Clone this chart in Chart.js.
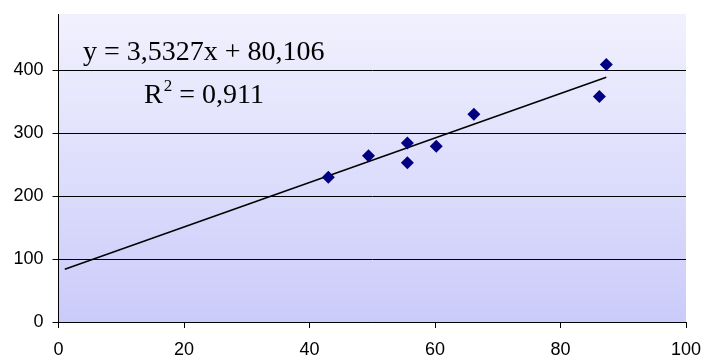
<!DOCTYPE html>
<html>
<head>
<meta charset="utf-8">
<script src="https://cdn.jsdelivr.net/npm/chart.js@4.4.0/dist/chart.umd.min.js"></script>
<style>
  html, body { margin: 0; padding: 0; background: #fff; }
  #wrap { width: 703px; height: 356px; }
</style>
</head>
<body>
<div id="wrap"><canvas id="grafico"></canvas></div>
<script>
// dados
const xValores = [43.0, 49.4, 55.6, 55.6, 60.2, 66.2, 86.2, 87.3];
const yValores = [230, 264, 284, 253, 279, 330, 358, 409];
const xTicks = [0, 20, 40, 60, 80, 100];
const yTicks = [0, 100, 200, 300, 400];

// linha de tendência (regressão linear)
const inclinacao = 3.5327;
const intercepto = 80.106;
const inicioTendencia = 1;
const textoEquacao = 'y = 3,5327x + 80,106';
const textoR2 = '0,911';

const fimTendencia = Math.max(...xValores);
const pontos = xValores.map((x, i) => ({ x: x, y: yValores[i] }));
const tendencia = [inicioTendencia, fimTendencia].map(x => ({ x: x, y: inclinacao * x + intercepto }));

// tira o espaço extra que o Chart.js reserva para os rótulos das pontas
function semPadding(axis) {
  axis.paddingLeft = 0;
  axis.paddingRight = 0;
  axis.paddingTop = 0;
  axis.paddingBottom = 0;
}

// fundo com degradê na área do gráfico
const fundoPlugin = {
  id: 'fundo',
  beforeDraw(chart) {
    const { ctx, chartArea } = chart;
    const g = ctx.createLinearGradient(0, chartArea.top, 0, chartArea.bottom);
    g.addColorStop(0, '#f1f1fe');
    g.addColorStop(1, '#cbcbfa');
    ctx.save();
    ctx.fillStyle = g;
    ctx.fillRect(chartArea.left, chartArea.top, chartArea.right - chartArea.left, chartArea.bottom - chartArea.top);
    ctx.restore();
  }
};

// equação e R² escritos no gráfico
const equacaoPlugin = {
  id: 'equacao',
  afterDraw(chart) {
    const ctx = chart.ctx;
    ctx.save();
    ctx.fillStyle = '#000';
    ctx.textBaseline = 'alphabetic';
    ctx.font = '28px "Liberation Serif", "Times New Roman", serif';
    ctx.fillText(textoEquacao, 83, 60);
    ctx.fillText('R', 144, 103);
    let x = 144 + ctx.measureText('R').width;
    ctx.font = '17px "Liberation Serif", "Times New Roman", serif';
    ctx.fillText('2', x + 1, 91);
    x += ctx.measureText('2').width + 1;
    ctx.font = '28px "Liberation Serif", "Times New Roman", serif';
    ctx.fillText(' = ' + textoR2, x, 103);
    ctx.restore();
  }
};

new Chart(document.getElementById('grafico'), {
  data: {
    datasets: [
      {
        type: 'scatter',
        data: pontos,
        pointStyle: 'rectRot',
        pointRadius: 6.5,
        pointHoverRadius: 6.5,
        backgroundColor: '#000080',
        borderColor: '#000080',
        borderWidth: 0
      },
      {
        type: 'line',
        data: tendencia,
        borderColor: '#000',
        borderWidth: 1.5,
        pointRadius: 0,
        fill: false
      }
    ]
  },
  options: {
    responsive: true,
    maintainAspectRatio: false,
    animation: false,
    layout: { padding: { top: 14, right: 17, left: 0, bottom: 0 } },
    plugins: {
      legend: { display: false },
      tooltip: { enabled: false }
    },
    scales: {
      x: {
        type: 'linear',
        min: 0,
        max: 100,
        afterBuildTicks: axis => { axis.ticks = xTicks.map(v => ({ value: v })); },
        afterFit: axis => { axis.height = 34; semPadding(axis); },
        grid: { drawOnChartArea: false, color: '#000', tickLength: 6 },
        border: { color: '#000', width: 1 },
        ticks: { color: '#000', padding: 11, maxRotation: 0, font: { family: '"Liberation Sans", Arial, sans-serif', size: 18 } }
      },
      y: {
        type: 'linear',
        min: 0,
        max: 489,
        afterBuildTicks: axis => { axis.ticks = yTicks.map(v => ({ value: v })); },
        afterFit: axis => { axis.width = 58.5; semPadding(axis); },
        grid: { color: '#000', tickLength: 6 },
        border: { color: '#000', width: 1 },
        ticks: { color: '#000', padding: 9, font: { family: '"Liberation Sans", Arial, sans-serif', size: 18 } }
      }
    }
  },
  plugins: [fundoPlugin, equacaoPlugin]
});
</script>
</body>
</html>
